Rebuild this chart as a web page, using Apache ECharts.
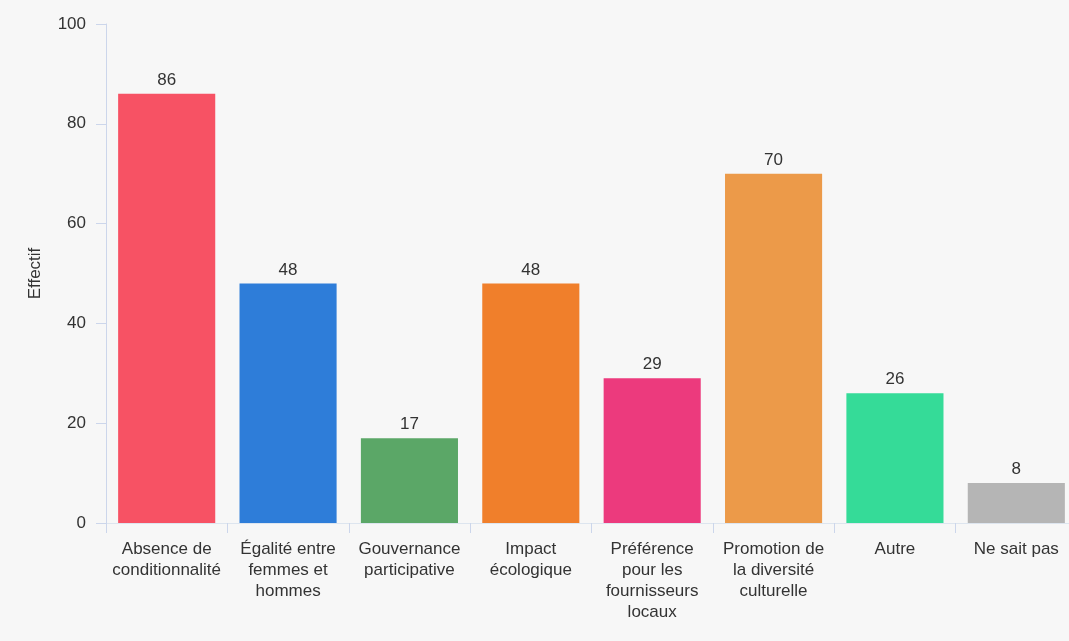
<!DOCTYPE html>
<html>
<head>
<meta charset="utf-8">
<script src="https://cdn.jsdelivr.net/npm/echarts@6/dist/echarts.min.js"></script>
<style>
  html, body { margin: 0; padding: 0; background: #f7f7f7; overflow: hidden; }
  #chart { width: 1080px; height: 641px; }
</style>
</head>
<body>
<div id="chart"></div>
<script>
// Categories (answers) and their counts
const categories = [
  'Absence de\nconditionnalité',
  'Égalité entre\nfemmes et\nhommes',
  'Gouvernance\nparticipative',
  'Impact\nécologique',
  'Préférence\npour les\nfournisseurs\nlocaux',
  'Promotion de\nla diversité\nculturelle',
  'Autre',
  'Ne sait pas'
];
const counts = [86, 48, 17, 48, 29, 70, 26, 8];
const barColors = ['#f75264', '#2e7dd9', '#5ba767', '#f07f2b', '#ec3a7d', '#ec9a49', '#35db98', '#b5b5b5'];
const yTicks = { min: 0, max: 100, interval: 20 };
const yTitle = 'Effectif';

// the drawing surface is a little wider than the window; the plot runs past its right edge
const chart = echarts.init(document.getElementById('chart'), null, { renderer: 'canvas' });
const font = 'Liberation Sans, Arial, sans-serif';

chart.setOption({
  backgroundColor: '#f7f7f7',
  animation: false,
  grid: { left: 106, right: 3, top: 24, bottom: 118, containLabel: false },
  xAxis: {
    type: 'category',
    data: categories,
    axisLine: { show: true, lineStyle: { color: '#dde5ef', width: 1 } },
    axisTick: { show: true, length: 10, alignWithLabel: false, lineStyle: { color: '#ccd6eb' } },
    axisLabel: {
      interval: 0, margin: 16, color: '#333', fontSize: 17, lineHeight: 21,
      fontFamily: font, align: 'center'
    }
  },
  yAxis: {
    type: 'value',
    min: yTicks.min, max: yTicks.max, interval: yTicks.interval,
    name: yTitle,
    nameLocation: 'middle',
    nameGap: 62,
    nameRotate: 90,
    nameTextStyle: { color: '#333', fontSize: 17, fontFamily: font },
    axisLine: { show: true, lineStyle: { color: '#ccd6eb', width: 1 } },
    axisTick: { show: true, length: 10, lineStyle: { color: '#ccd6eb' } },
    axisLabel: { margin: 20, color: '#333', fontSize: 17, fontFamily: font },
    splitLine: { show: false }
  },
  series: [{
    type: 'bar',
    data: counts.map((v, i) => ({ value: v, itemStyle: { color: barColors[i] } })),
    barCategoryGap: '20%',
    label: {
      show: true, position: 'top', distance: 5,
      color: '#333', fontSize: 17, fontFamily: font
    }
  }]
});
</script>
</body>
</html>
